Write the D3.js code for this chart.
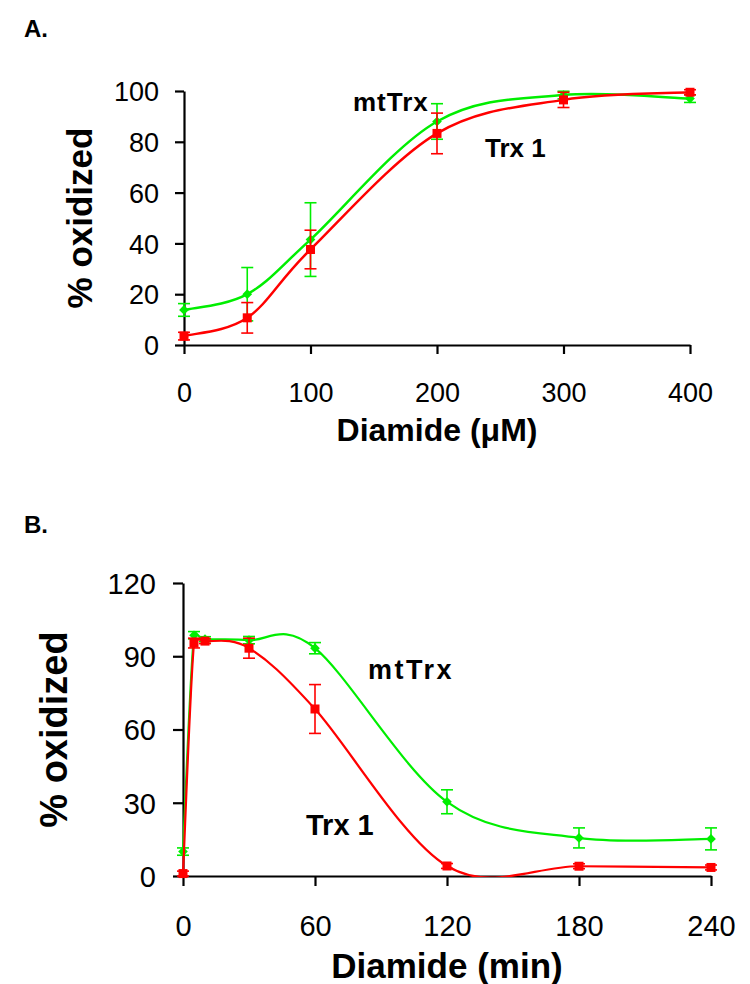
<!DOCTYPE html>
<html>
<head>
<meta charset="utf-8">
<script src="https://cdn.jsdelivr.net/npm/d3@7"></script>
<style>
  html, body { margin: 0; padding: 0; background: #fff; }
  svg { display: block; }
  text { font-family: Arial, "Liberation Sans", sans-serif; fill: #000; }
</style>
</head>
<body>
<svg id="chart" width="750" height="984"></svg>
<script>
// ---------- Panel A data ----------
const aDiamide = [0, 50, 100, 200, 300, 400];            // µM
const aMtTrx = [13.8, 20, 41.5, 88, 98.4, 97];
const aMtTrxErr = [2.5, 10.5, 14.5, 7, 1.5, 1.5];
const aTrx1 = [3.5, 10.7, 37.6, 83.3, 96.5, 99.5];
const aTrx1Err = [1.5, 6, 7.6, 8, 3, 1];
const aXTicks = [0, 100, 200, 300, 400];
const aYTicks = [0, 20, 40, 60, 80, 100];

// ---------- Panel B data ----------
const bTime = [0, 5, 10, 30, 60, 120, 180, 240];        // min
const bMtTrx = [10, 98.6, 97, 96.6, 93.3, 30.4, 15.6, 15.2];
const bMtTrxErr = [1.5, 1.5, 1, 1.5, 2.3, 4.9, 4.1, 4.5];
const bTrx1 = [1, 95.4, 96.2, 93.3, 68.4, 4.1, 4, 3.5];
const bTrx1Err = [1, 2, 1, 4.1, 10, 1, 1, 1];
const bXTicks = [0, 60, 120, 180, 240];
const bYTicks = [0, 30, 60, 90, 120];

const GREEN = "#00ee00";
const RED = "#ff0000";

const svg = d3.select("#chart");

// Spreadsheet-style smoothed line: cardinal Bezier arms (1/6 of neighbour chord),
// with each arm limited relative to its own segment length.
function smoothPath(P, k) {
  const n = P.length;
  const arm = i => {
    const a = P[Math.max(i - 1, 0)], b = P[Math.min(i + 1, n - 1)];
    return [(b[0] - a[0]) / 6, (b[1] - a[1]) / 6];
  };
  const clamp = (v, max) => {
    const l = Math.hypot(v[0], v[1]);
    return l > max && l > 0 ? [v[0] * max / l, v[1] * max / l] : v;
  };
  const p = d3.path();
  p.moveTo(P[0][0], P[0][1]);
  for (let i = 0; i < n - 1; i++) {
    const d = Math.hypot(P[i + 1][0] - P[i][0], P[i + 1][1] - P[i][1]);
    const a = clamp(arm(i), k * d), b = clamp(arm(i + 1), k * d);
    p.bezierCurveTo(P[i][0] + a[0], P[i][1] + a[1],
                    P[i + 1][0] - b[0], P[i + 1][1] - b[1],
                    P[i + 1][0], P[i + 1][1]);
  }
  return p.toString();
}

function panel(cfg) {
  const g = svg.append("g");
  const x = d3.scaleLinear().domain(cfg.xDomain).range(cfg.xRange);
  const y = d3.scaleLinear().domain(cfg.yDomain).range(cfg.yRange);

  const yAxis = d3.axisLeft(y).tickValues(cfg.yTicks).tickSize(cfg.tick).tickSizeOuter(0)
    .tickPadding(cfg.yPad).tickFormat(d3.format("d"));
  const xAxis = d3.axisBottom(x).tickValues(cfg.xTicks).tickSize(cfg.tick).tickSizeOuter(0)
    .tickPadding(cfg.xPad).tickFormat(d3.format("d"));

  const gy = g.append("g").attr("transform", `translate(${cfg.xRange[0]},0)`).call(yAxis);
  const gx = g.append("g").attr("transform", `translate(0,${cfg.yRange[0]})`).call(xAxis);
  [gx, gy].forEach(a => {
    a.selectAll("path.domain, line").attr("stroke", "#000").attr("stroke-width", 2.2);
    a.selectAll("text").attr("font-size", cfg.tickFont).attr("fill", "#000")
      .style("font-family", "Arial, 'Liberation Sans', sans-serif");
  });
  gy.selectAll("text").attr("dy", "0.36em");

  const clipId = "clip" + cfg.id;
  g.append("clipPath").attr("id", clipId).append("rect")
    .attr("x", cfg.xRange[0] - 20).attr("y", cfg.yRange[1] - 20)
    .attr("width", cfg.xRange[1] - cfg.xRange[0] + 40)
    .attr("height", cfg.yRange[0] - cfg.yRange[1] + 21);

  cfg.series.forEach(s => {
    const pts = cfg.xs.map((v, i) => [v, s.vals[i], s.err[i]]);
    const sg = g.append("g");
    const eb = sg.append("g").attr("stroke", s.color).attr("stroke-width", 1.6).attr("fill", "none");
    pts.forEach(p => {
      const cx = x(p[0]), top = y(p[1] + p[2]), bot = y(p[1] - p[2]);
      eb.append("line").attr("x1", cx).attr("x2", cx).attr("y1", top).attr("y2", bot);
      eb.append("line").attr("x1", cx - cfg.cap).attr("x2", cx + cfg.cap).attr("y1", top).attr("y2", top);
      eb.append("line").attr("x1", cx - cfg.cap).attr("x2", cx + cfg.cap).attr("y1", bot).attr("y2", bot);
    });
    const px = pts.map(d => [x(d[0]), y(d[1])]);
    sg.append("path").attr("d", smoothPath(px, 0.7))
      .attr("fill", "none").attr("stroke", s.color).attr("stroke-width", cfg.lineW)
      .attr("clip-path", `url(#${clipId})`);
    if (s.shape === "square") {
      sg.selectAll("rect.m").data(pts).join("rect").attr("class", "m")
        .attr("x", d => x(d[0]) - 4.5).attr("y", d => y(d[1]) - 4.5)
        .attr("width", 9).attr("height", 9).attr("fill", s.color);
    } else {
      sg.selectAll("path.m").data(pts).join("path").attr("class", "m")
        .attr("d", d3.symbol(d3.symbolDiamond2, 60))
        .attr("transform", d => `translate(${x(d[0])},${y(d[1])})`).attr("fill", s.color);
    }
  });

  g.append("text").attr("x", cfg.letterPos[0]).attr("y", cfg.letterPos[1])
    .attr("font-size", 24).attr("font-weight", "bold").text(cfg.letter);
  g.append("text").attr("x", (cfg.xRange[0] + cfg.xRange[1]) / 2).attr("y", cfg.xTitleY)
    .attr("text-anchor", "middle").attr("font-size", cfg.xTitleFont).attr("font-weight", "bold")
    .text(cfg.xTitle);
  g.append("text").attr("transform", `translate(${cfg.yTitleX},${(cfg.yRange[0] + cfg.yRange[1]) / 2}) rotate(-90)`)
    .attr("text-anchor", "middle").attr("font-size", cfg.yTitleFont).attr("font-weight", "bold")
    .text("% oxidized");
  cfg.labels.forEach(l => {
    g.append("text").attr("x", l.x).attr("y", l.y).attr("font-size", l.size)
      .attr("font-weight", "bold").attr("letter-spacing", l.ls || 0).text(l.text);
  });
}

panel({
  id: "A", letter: "A.", letterPos: [24, 37],
  xDomain: [0, 400], xRange: [184, 690],
  yDomain: [0, 100], yRange: [345, 91],
  xTicks: aXTicks, yTicks: aYTicks, tick: 9, yPad: 16, xPad: 29,
  tickFont: 27, xs: aDiamide, cap: 6, lineW: 2.5,
  xTitle: "Diamide (\u03bcM)", xTitleY: 441, xTitleFont: 32,
  yTitleX: 92, yTitleFont: 35,
  series: [
    { vals: aMtTrx, err: aMtTrxErr, color: GREEN, shape: "diamond" },
    { vals: aTrx1, err: aTrx1Err, color: RED, shape: "square" }
  ],
  labels: [
    { text: "mtTrx", x: 353, y: 111, size: 26, ls: 1 },
    { text: "Trx 1", x: 485, y: 157, size: 26 }
  ]
});

panel({
  id: "B", letter: "B.", letterPos: [24, 533],
  xDomain: [0, 240], xRange: [183, 711],
  yDomain: [0, 120], yRange: [876, 583],
  xTicks: bXTicks, yTicks: bYTicks, tick: 10, yPad: 17, xPad: 29,
  tickFont: 29, xs: bTime, cap: 6, lineW: 2.2,
  xTitle: "Diamide (min)", xTitleY: 978, xTitleFont: 35,
  yTitleX: 67, yTitleFont: 38,
  series: [
    { vals: bMtTrx, err: bMtTrxErr, color: GREEN, shape: "diamond" },
    { vals: bTrx1, err: bTrx1Err, color: RED, shape: "square" }
  ],
  labels: [
    { text: "mtTrx", x: 368, y: 679, size: 27, ls: 2.5 },
    { text: "Trx 1", x: 306, y: 835, size: 29 }
  ]
});
</script>
</body>
</html>
